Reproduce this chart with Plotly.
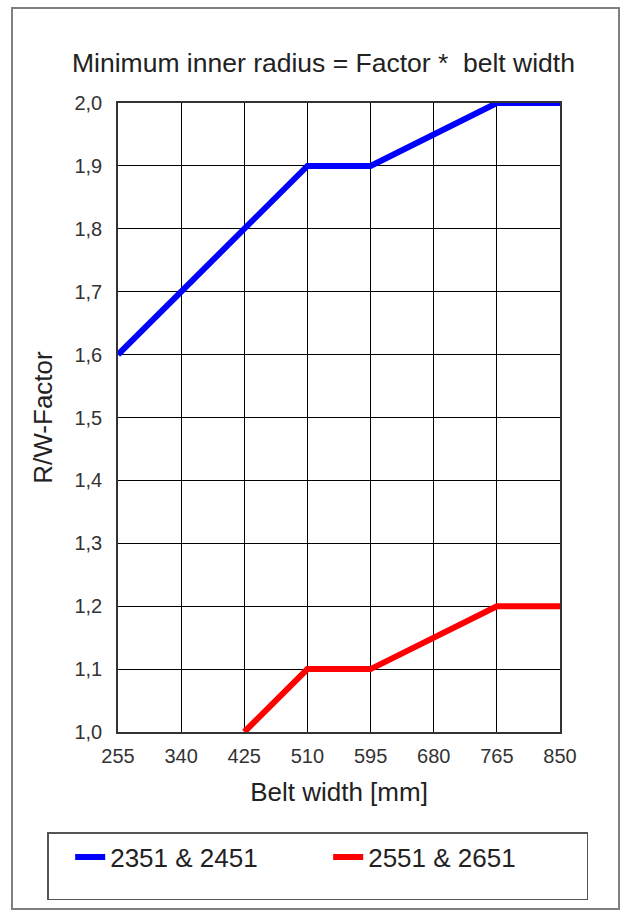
import plotly.graph_objects as go

belt_width = [255, 340, 425, 510, 595, 680, 765, 850]
series_a_name = "2351 & 2451"
series_a_x = [255, 340, 425, 510, 595, 680, 765, 850]
series_a_y = [1.6, 1.7, 1.8, 1.9, 1.9, 1.95, 2.0, 2.0]
series_b_name = "2551 & 2651"
series_b_x = [425, 510, 595, 680, 765, 850]
series_b_y = [1.0, 1.1, 1.1, 1.15, 1.2, 1.2]
y_ticks = [1.0, 1.1, 1.2, 1.3, 1.4, 1.5, 1.6, 1.7, 1.8, 1.9, 2.0]

FONT = "Liberation Sans, Arial, sans-serif"
W, H = 623, 910
ML, MR, MT, MB = 118, 63, 103, 178
PW, PH = W - ML - MR, H - MT - MB

fig = go.Figure()
fig.add_trace(go.Scatter(x=series_a_x, y=series_a_y, mode="lines", name=series_a_name,
                         line=dict(color="#0000FF", width=6), cliponaxis=False))
fig.add_trace(go.Scatter(x=series_b_x, y=series_b_y, mode="lines", name=series_b_name,
                         line=dict(color="#FF0000", width=6), cliponaxis=False))

def px_x(p):
    return (p - ML) / PW

def px_y(p):
    return (H - MB - p) / PH

fig.update_layout(
    width=W, height=H,
    margin=dict(l=ML, r=MR, t=MT, b=MB, autoexpand=False),
    paper_bgcolor="white", plot_bgcolor="white",
    separators=", ",
    font=dict(family=FONT, color="#333333", size=20),
    showlegend=True,
    legend=dict(
        orientation="h",
        x=px_x(47), xanchor="left",
        y=px_y(866), yanchor="middle",
        bordercolor="#555555", borderwidth=1.5,
        font=dict(size=26, color="#222222", family=FONT),
        title=dict(text="\u00a0", side="left", font=dict(size=42)),
        entrywidth=213, entrywidthmode="pixels",
        bgcolor="white",
    ),
    xaxis=dict(
        range=[255, 850], tickvals=belt_width, ticktext=[str(v) for v in belt_width],
        showgrid=True, gridcolor="black", gridwidth=1,
        showline=True, linecolor="#333333", linewidth=1.5, mirror=True,
        zeroline=False, ticks="", ticklabelstandoff=5,
        tickfont=dict(size=20, color="#333333"),
        title=dict(text="Belt width [mm]", font=dict(size=26, color="#222222"), standoff=17),
        fixedrange=True,
    ),
    yaxis=dict(
        range=[1.0, 2.0], tickvals=y_ticks, tickformat=".1f",
        showgrid=True, gridcolor="black", gridwidth=1,
        showline=True, linecolor="#333333", linewidth=1.5, mirror=True,
        zeroline=False, ticks="", ticklabelstandoff=10,
        tickfont=dict(size=20, color="#333333"),
        title=dict(text="R/W-Factor", font=dict(size=26, color="#222222"), standoff=14),
        fixedrange=True,
    ),
    shapes=[dict(type="rect", xref="paper", yref="paper",
                 x0=px_x(12), x1=px_x(619), y0=px_y(909), y1=px_y(8),
                 line=dict(color="#808080", width=2), layer="below")],
    annotations=[dict(text="Minimum inner radius = Factor *\u00a0 belt width",
                      xref="paper", yref="paper", x=px_x(323), y=px_y(63),
                      xanchor="center", yanchor="middle", showarrow=False,
                      font=dict(size=26.5, color="#222222", family=FONT))],
)

fig.write_html("out.html", config={"displayModeBar": False},
               post_script="document.body.style.margin='0px';")
